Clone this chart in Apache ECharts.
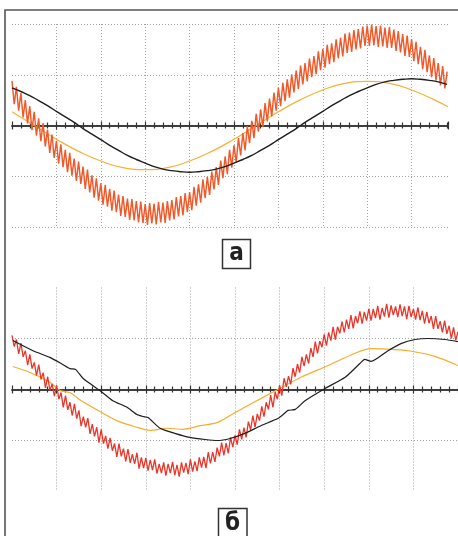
<!DOCTYPE html>
<html><head><meta charset="utf-8">
<script src="https://cdn.jsdelivr.net/npm/echarts@6/dist/echarts.min.js"></script>
<style>html,body{margin:0;padding:0;background:#fff;}#c{width:458px;height:536px;}</style>
</head><body><div id="c"></div>
<script>
// ---- data (x in scope divisions, y in scope divisions) ----
const panelLabels = ['а', 'б'];
const RIPPLE_STEP = 0.1;   // time between successive ripple peaks (div)
const BLACK_A_STEP = 0.2;

// Panel а: red trace, ripple peaks at t = 0,0.1,... and troughs at t = 0.05,0.15,...
const redA_peaks = [0.88,0.76,0.64,0.50,0.38,0.27,0.14,0.05,-0.08,-0.18,
-0.30,-0.37,-0.48,-0.54,-0.65,-0.71,-0.81,-0.87,-0.98,-1.04,
-1.14,-1.17,-1.25,-1.28,-1.36,-1.39,-1.44,-1.45,-1.49,-1.50,
-1.55,-1.53,-1.54,-1.51,-1.52,-1.49,-1.47,-1.41,-1.39,-1.33,
-1.31,-1.21,-1.16,-1.06,-1.01,-0.91,-0.82,-0.69,-0.61,-0.48,
-0.39,-0.25,-0.15,-0.01,0.09,0.23,0.32,0.44,0.53,0.65,
0.74,0.84,0.91,1.01,1.08,1.18,1.23,1.32,1.37,1.46,
1.51,1.59,1.62,1.70,1.73,1.81,1.83,1.88,1.90,1.95,
1.97,1.99,1.96,1.97,1.93,1.94,1.89,1.86,1.80,1.77,
1.70,1.65,1.55,1.49,1.38,1.33,1.23,1.17,1.06];
const redA_troughs = [0.42,0.29,0.16,0.04,-0.09,-0.20,-0.31,-0.41,-0.54,-0.64,
-0.75,-0.82,-0.92,-0.99,-1.09,-1.15,-1.25,-1.32,-1.42,-1.48,
-1.56,-1.60,-1.68,-1.71,-1.78,-1.80,-1.86,-1.87,-1.91,-1.92,
-1.96,-1.93,-1.95,-1.91,-1.92,-1.87,-1.85,-1.79,-1.77,-1.71,
-1.67,-1.58,-1.52,-1.43,-1.37,-1.26,-1.17,-1.04,-0.96,-0.83,
-0.73,-0.59,-0.49,-0.35,-0.25,-0.12,-0.03,0.08,0.18,0.29,
0.38,0.48,0.55,0.65,0.72,0.81,0.87,0.95,1.01,1.09,
1.14,1.21,1.25,1.32,1.36,1.43,1.45,1.50,1.52,1.57,
1.57,1.58,1.55,1.56,1.53,1.53,1.47,1.44,1.37,1.35,
1.27,1.21,1.11,1.05,0.95,0.89,0.79,0.73];
const blackA = [0.74,0.67,0.59,0.49,0.39,0.28,0.17,0.06,-0.06,-0.17,
-0.28,-0.39,-0.49,-0.59,-0.67,-0.74,-0.81,-0.86,-0.89,-0.91,
-0.92,-0.91,-0.89,-0.86,-0.81,-0.74,-0.67,-0.59,-0.49,-0.39,
-0.28,-0.17,-0.06,0.06,0.17,0.28,0.39,0.49,0.59,0.67,
0.74,0.81,0.86,0.89,0.91,0.92,0.91,0.89,0.86,0.81];
const orangeA_t = [0,0.5,1,1.5,2,2.5,3,3.5,4,4.5,5,5.5,6,6.5,7,7.5,8,8.5,9,9.5,9.82];
const orangeA_v = [0.27,0.00,-0.27,-0.51,-0.70,-0.83,-0.87,-0.83,-0.70,-0.51,-0.27,0.00,0.27,0.51,0.70,0.83,0.87,0.83,0.70,0.51,0.37];

// Panel б
const redB_peaks = [1.06,0.98,0.91,0.76,0.69,0.53,0.49,0.33,0.25,0.11,
0.08,-0.06,-0.12,-0.25,-0.28,-0.41,-0.53,-0.56,-0.68,-0.74,
-0.78,-0.91,-0.95,-1.06,-1.06,-1.16,-1.17,-1.27,-1.24,-1.33,
-1.34,-1.38,-1.37,-1.46,-1.43,-1.46,-1.42,-1.48,-1.43,-1.44,
-1.37,-1.41,-1.33,-1.32,-1.23,-1.23,-1.14,-1.04,-1.05,-0.94,
-0.90,-0.78,-0.75,-0.63,-0.51,-0.48,-0.33,-0.25,-0.11,-0.05,
0.08,0.22,0.26,0.42,0.50,0.64,0.69,0.81,0.94,0.95,
1.08,1.12,1.23,1.23,1.33,1.37,1.46,1.44,1.53,1.52,
1.58,1.58,1.64,1.60,1.68,1.65,1.63,1.67,1.63,1.64,
1.58,1.61,1.54,1.52,1.44,1.44,1.34,1.35,1.25,1.22,
1.13];
const redB_troughs = [0.84,0.70,0.64,0.48,0.41,0.27,0.20,0.03,-0.02,-0.13,
-0.19,-0.35,-0.40,-0.51,-0.57,-0.72,-0.74,-0.87,-0.92,-1.04,
-1.06,-1.16,-1.20,-1.32,-1.31,-1.41,-1.44,-1.46,-1.55,-1.54,
-1.59,-1.58,-1.65,-1.64,-1.69,-1.64,-1.68,-1.71,-1.63,-1.66,
-1.61,-1.60,-1.53,-1.54,-1.45,-1.42,-1.31,-1.29,-1.25,-1.13,
-1.08,-0.98,-0.94,-0.79,-0.74,-0.61,-0.53,-0.39,-0.35,-0.19,
-0.12,0.05,0.10,0.25,0.33,0.46,0.51,0.64,0.71,0.83,
0.86,0.96,0.98,1.10,1.12,1.19,1.20,1.30,1.29,1.35,
1.35,1.40,1.37,1.43,1.41,1.46,1.42,1.44,1.38,1.42,
1.37,1.36,1.29,1.30,1.19,1.19,1.12,1.09,1.00,0.97];
const blackB_t = [0.02,0.47,0.85,1.14,1.30,1.43,1.59,1.97,2.26,2.58,2.80,2.94,3.05,3.32,3.65,3.99,4.33,4.60,4.89,5.22,5.58,5.96,6.08,6.19,6.35,6.57,7.02,7.47,7.80,7.91,8.05,8.43,8.72,9.04,9.33,9.71,10.0];
const blackB_v = [0.96,0.76,0.63,0.49,0.41,0.39,0.22,-0.02,-0.22,-0.35,-0.49,-0.53,-0.55,-0.76,-0.86,-0.94,-0.98,-1.00,-0.96,-0.86,-0.71,-0.57,-0.49,-0.41,-0.39,-0.22,0.02,0.24,0.51,0.59,0.55,0.76,0.90,0.98,1.00,0.98,0.94];
const orangeB_t = [0.02,0.47,0.85,1.08,1.30,1.52,1.97,2.35,2.76,3.09,3.48,3.83,4.22,4.60,4.89,5.34,5.96,6.48,7.09,7.69,8.05,8.59,8.95,9.48,10.0];
const orangeB_v = [0.45,0.31,0.14,-0.02,-0.06,-0.20,-0.43,-0.61,-0.73,-0.80,-0.76,-0.78,-0.71,-0.65,-0.51,-0.29,0.00,0.24,0.47,0.71,0.80,0.78,0.75,0.65,0.47];

// ---- build ----
function ripple(peaks, troughs, step) {
  const out = [];
  for (let i = 0; i < peaks.length; i++) {
    out.push([+(i * step).toFixed(3), peaks[i]]);
    if (i < troughs.length) out.push([+((i + 0.5) * step).toFixed(3), troughs[i]]);
  }
  return out;
}
function stepped(vals, step) { return vals.map((v, i) => [+(i * step).toFixed(3), v]); }
function pairs(t, v) { return t.map((x, i) => [x, v[i]]); }

const gridCol = '#a3a3a3';
const axisCol = '#333';
function xMain(gi, max) {
  return {
    gridIndex: gi, type: 'value', min: 0, max: max, interval: 1,
    axisLine: { show: true, onZero: true, lineStyle: { color: axisCol, width: 1.6 } },
    axisTick: { show: true, length: 4, lineStyle: { color: axisCol, width: 1.2 } },
    minorTick: { show: true, splitNumber: 5, length: 3, lineStyle: { color: axisCol, width: 1.2 } },
    axisLabel: { show: false },
    splitLine: { show: true, showMinLine: false, showMaxLine: false, lineStyle: { color: gridCol, width: 1, type: [1, 2] } },
    minorSplitLine: { show: false }
  };
}
function xMirror(gi, max, yi) {
  return {
    gridIndex: gi, type: 'value', position: 'top', min: 0, max: max, interval: 1,
    axisLine: { show: true, onZero: true, onZeroAxisIndex: yi, lineStyle: { color: axisCol, width: 1.6 } },
    axisTick: { show: true, length: 4, lineStyle: { color: axisCol, width: 1.2 } },
    minorTick: { show: true, splitNumber: 5, length: 3, lineStyle: { color: axisCol, width: 1.2 } },
    axisLabel: { show: false },
    splitLine: { show: false }
  };
}
function yAx(gi, edgeLines) {
  return {
    gridIndex: gi, type: 'value', min: -2, max: 2, interval: 1,
    axisLine: { show: false }, axisTick: { show: false }, axisLabel: { show: false },
    splitLine: { show: true, showMinLine: edgeLines, showMaxLine: edgeLines, lineStyle: { color: gridCol, width: 1, type: [1, 2] } }
  };
}
function line(xi, yi, data, color, width, smooth, z) {
  return { type: 'line', xAxisIndex: xi, yAxisIndex: yi, data: data, showSymbol: false, symbol: 'none',
    smooth: smooth, lineStyle: { color: color, width: width }, z: z, silent: true };
}

const chart = echarts.init(document.getElementById('c'), null, { renderer: 'canvas' });
chart.setOption({
  animation: false,
  backgroundColor: '#fff',
  grid: [
    { left: 12, top: 24, width: 436, height: 203 },
    { left: 12, top: 287.5, width: 446, height: 204 }
  ],
  xAxis: [xMain(0, 9.82), xMirror(0, 9.82, 0), xMain(1, 10), xMirror(1, 10, 1)],
  yAxis: [yAx(0, true), yAx(1, false)],
  series: [
    line(0, 0, pairs(orangeA_t, orangeA_v), '#f8b135', 1.2, true, 2),
    line(0, 0, ripple(redA_peaks, redA_troughs, RIPPLE_STEP), '#f05a2b', 1.45, false, 3),
    line(0, 0, stepped(blackA, BLACK_A_STEP), '#1e1e1e', 1.4, true, 4),
    line(2, 1, pairs(orangeB_t, orangeB_v), '#f8ad2c', 1.2, 0.3, 2),
    line(2, 1, ripple(redB_peaks, redB_troughs, RIPPLE_STEP), '#e9362b', 1.3, false, 3),
    line(2, 1, pairs(blackB_t, blackB_v), '#1e1e1e', 1.2, 0.2, 4)
  ],
  graphic: [
    { type: 'polyline', shape: { points: [[5, 540], [5, 10], [460, 10]] }, style: { stroke: '#555', lineWidth: 1.6, fill: null } },
    { type: 'rect', shape: { x: 222.5, y: 239.5, width: 28, height: 29 }, style: { stroke: '#333', lineWidth: 1.5, fill: '#fff' } },
    { type: 'text', x: 236.5, y: 254, style: { text: panelLabels[0], font: 'bold 24px "Liberation Sans Narrow", "DejaVu Sans Condensed", sans-serif', fill: '#222', align: 'center', verticalAlign: 'middle' } },
    { type: 'rect', shape: { x: 218.5, y: 508.5, width: 28.5, height: 32 }, style: { stroke: '#333', lineWidth: 1.5, fill: '#fff' } },
    { type: 'text', x: 232.5, y: 524, style: { text: panelLabels[1], font: 'bold 24px "Liberation Sans Narrow", "DejaVu Sans Condensed", sans-serif', fill: '#222', align: 'center', verticalAlign: 'middle' } }
  ]
});
</script></body></html>
